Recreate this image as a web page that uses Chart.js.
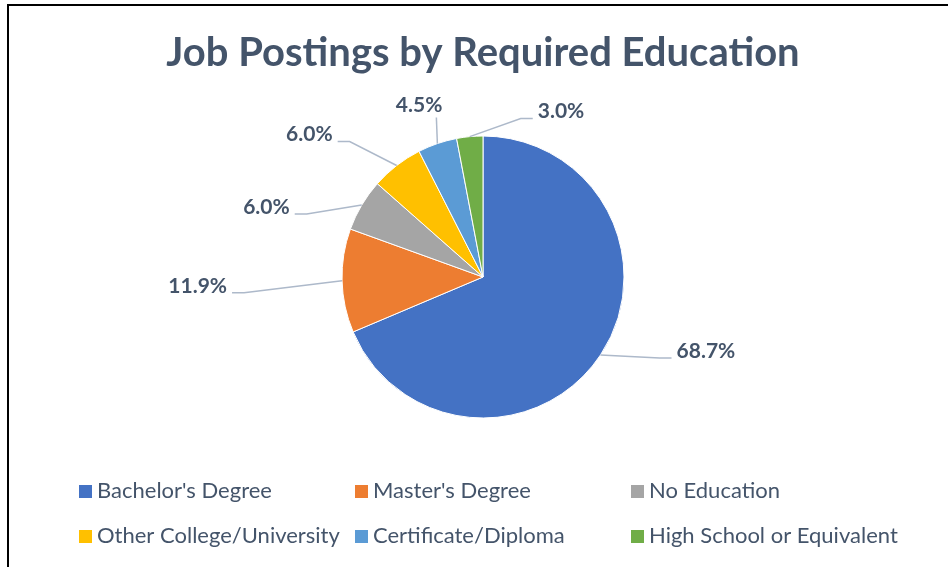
<!DOCTYPE html>
<html>
<head>
<meta charset="utf-8">
<script src="https://cdn.jsdelivr.net/npm/chart.js@4"></script>
<style>
  html, body { margin: 0; padding: 0; background: #fff; }
</style>
</head>
<body>
<canvas id="myChart" width="948" height="567"></canvas>
<script>
var categories = ["Bachelor's Degree", "Master's Degree", 'No Education', 'Other College/University', 'Certificate/Diploma', 'High School or Equivalent'];
var shares = [68.7, 11.9, 6.0, 6.0, 4.5, 3.0];
var colors = ['#4472C4', '#ED7D31', '#A5A5A5', '#FFC000', '#5B9BD5', '#70AD47'];

var textColor = '#44546A';
var leaderColor = '#ADB9CA';

// where each leader line ends, measured from the slice's outer edge
var labelSpots = [
    { dx: 71, dy: 3, side: 'right' },
    { dx: -110, dy: 12, side: 'left' },
    { dx: -67, dy: 9, side: 'left' },
    { dx: -59, dy: -24, side: 'left' },
    { dx: -1, dy: -26, side: 'above' },
    { dx: 63, dy: -18, side: 'right' }
];

// legend grid
var legendCols = [79, 355, 631];
var legendRows = [491, 536];

var frame = {
    id: 'frame',
    beforeDraw: function(chart) {
        var c = chart.ctx;
        c.save();
        c.fillStyle = '#fff';
        c.fillRect(0, 0, chart.width, chart.height);
        c.fillStyle = '#000';
        c.fillRect(7, 4, 2, chart.height - 4);
        c.fillRect(7, 4, chart.width - 7, 2);
        c.restore();
    }
};

var pieLabels = {
    id: 'pieLabels',
    afterDatasetsDraw: function(chart) {
        var c = chart.ctx;
        var arcs = chart.getDatasetMeta(0).data;
        c.save();
        c.font = 'bold 21px Lato';
        c.fillStyle = textColor;
        c.strokeStyle = leaderColor;
        c.lineWidth = 1.5;
        c.textBaseline = 'middle';
        arcs.forEach(function(arc, i) {
            var p = arc.getProps(['x', 'y', 'startAngle', 'endAngle', 'outerRadius'], true);
            var mid = (p.startAngle + p.endAngle) / 2;
            var ex = p.x + Math.cos(mid) * p.outerRadius;
            var ey = p.y + Math.sin(mid) * p.outerRadius;
            var s = labelSpots[i];
            var lx = ex + s.dx, ly = ey + s.dy;
            var txt = shares[i].toFixed(1) + '%';
            c.beginPath();
            c.moveTo(ex, ey);
            if (s.side === 'above') {
                c.lineTo(lx, ly);
                c.stroke();
                c.textAlign = 'right';
                c.fillText(txt, lx + 6, ly - 12);
                return;
            }
            var dir = s.side === 'right' ? 1 : -1;
            c.lineTo(lx - dir * 12, ly);
            c.lineTo(lx, ly);
            c.stroke();
            c.textAlign = s.side === 'right' ? 'left' : 'right';
            c.fillText(txt, lx + dir * 5, ly - 7);
        });
        c.restore();
    }
};

var gridLegend = {
    id: 'gridLegend',
    afterDraw: function(chart) {
        var c = chart.ctx;
        var ds = chart.data.datasets[0];
        c.save();
        c.font = '22px Lato';
        c.textBaseline = 'middle';
        c.textAlign = 'left';
        chart.data.labels.forEach(function(name, i) {
            var x = legendCols[i % 3];
            var y = legendRows[Math.floor(i / 3)];
            c.fillStyle = ds.backgroundColor[i];
            c.fillRect(x, y - 6, 13, 13);
            c.fillStyle = textColor;
            c.fillText(name, x + 18, y);
        });
        c.restore();
    }
};

var ctx = document.getElementById('myChart').getContext('2d');
var myChart = new Chart(ctx, {
    type: 'pie',
    data: {
        labels: categories,
        datasets: [{
            data: shares,
            backgroundColor: colors,
            borderColor: '#fff',
            borderWidth: 1,
            radius: 141
        }]
    },
    options: {
        responsive: false,
        animation: false,
        events: [],
        layout: {
            padding: { left: 100, right: 82, top: 0, bottom: 90 }
        },
        plugins: {
            legend: { display: false },
            tooltip: { enabled: false },
            title: {
                display: true,
                text: 'Job Postings by Required Education',
                color: textColor,
                font: { family: 'Lato', size: 40, weight: 'bold' },
                padding: { top: 29, bottom: 0 }
            }
        }
    },
    plugins: [frame, pieLabels, gridLegend]
});
</script>
</body>
</html>
